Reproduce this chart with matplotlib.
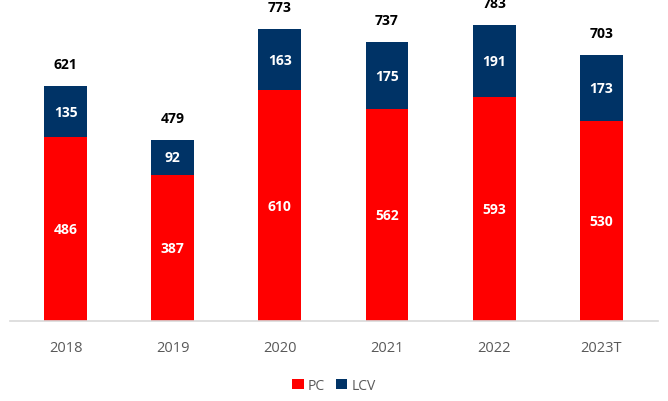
import numpy as np
import matplotlib.pyplot as plt

years = ["2018", "2019", "2020", "2021", "2022", "2023T"]
pc = [486, 387, 610, 562, 593, 530]
lcv = [135, 92, 163, 175, 191, 173]
totals = [621, 479, 773, 737, 783, 703]

plt.rcParams['font.family'] = ['Open Sans', 'DejaVu Sans']

fig = plt.figure(figsize=(6.68, 4.02), dpi=100)
ax = fig.add_axes([10 / 668, 0.199, 648 / 668, 0.801])

x = np.arange(len(years))
w = 0.4
red = "#FF0000"
navy = "#003366"

ax.bar(x, pc, w, color=red, label="PC")
ax.bar(x, lcv, w, bottom=pc, color=navy, label="LCV")

for i in range(len(years)):
    ax.text(x[i], pc[i] / 2, str(pc[i]), ha="center", va="center",
            color="white", fontsize=10, fontweight="bold")
    ax.text(x[i], pc[i] + lcv[i] / 2, str(lcv[i]), ha="center", va="center",
            color="white", fontsize=10, fontweight="bold")
    ax.annotate(str(totals[i]), (x[i], totals[i]), xytext=(0, 16),
                textcoords="offset points", ha="center", va="center",
                fontsize=10, fontweight="bold", color="black",
                annotation_clip=False)

ax.set_xlim(-0.52, 5.53)
ax.set_ylim(0, 852)
ax.set_yticks([])
ax.set_xticks(x)
ax.set_xticklabels(years, color="#595959", fontsize=10.5)
ax.tick_params(axis="x", length=0, pad=14)
for s in ["top", "right", "left"]:
    ax.spines[s].set_visible(False)
ax.spines["bottom"].set_color("#D9D9D9")
ax.spines["bottom"].set_linewidth(1.2)

ax.legend(loc="center", bbox_to_anchor=(0.5, -0.2), ncol=2, frameon=False,
          fontsize=10, handlelength=0.8, handleheight=0.8, handletextpad=0.3,
          columnspacing=0.8, labelcolor="#595959")

fig.savefig("out.png", dpi=100)
